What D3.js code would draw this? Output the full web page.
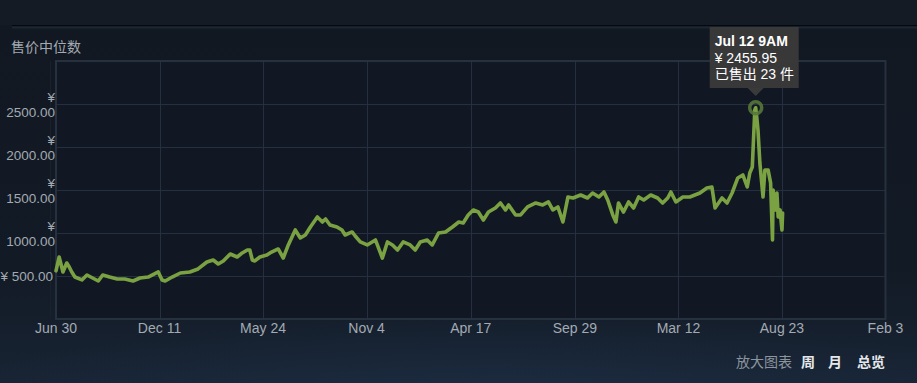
<!DOCTYPE html>
<html><head><meta charset="utf-8">
<script src="https://cdn.jsdelivr.net/npm/d3@7"></script>
<style>
html,body{margin:0;padding:0;background:#131a24;overflow:hidden}
svg{display:block}
text{font-family:Arial,"Liberation Sans","Noto Sans CJK SC",sans-serif}
</style></head><body>
<svg id="c" width="917" height="383"></svg>
<script>
const chartTitle = "售价中位数";
const dates = [
"2018-06-30","2018-07-05","2018-07-11","2018-07-17","2018-07-21","2018-07-25","2018-07-30","2018-08-10","2018-08-18","2018-08-27",
"2018-09-05","2018-09-12","2018-09-23","2018-10-05","2018-10-17","2018-10-30","2018-11-10","2018-11-23","2018-12-09","2018-12-15",
"2018-12-20","2018-12-31","2019-01-13","2019-01-28","2019-02-10","2019-02-24","2019-03-06","2019-03-14","2019-03-22","2019-04-02",
"2019-04-13","2019-04-21","2019-04-29","2019-05-03","2019-05-07","2019-05-11","2019-05-19","2019-05-30","2019-06-04","2019-06-17",
"2019-06-25","2019-07-03","2019-07-14","2019-07-22","2019-07-30","2019-08-07","2019-08-18","2019-08-26","2019-08-31","2019-09-07",
"2019-09-18","2019-09-26","2019-10-01","2019-10-12","2019-10-17","2019-10-25","2019-11-05","2019-11-18","2019-11-29","2019-12-07",
"2019-12-15","2019-12-23","2020-01-01","2020-01-12","2020-01-20","2020-01-28","2020-02-08","2020-02-16","2020-02-26","2020-03-08",
"2020-03-19","2020-03-29","2020-04-05","2020-04-13","2020-04-21","2020-04-29","2020-05-07","2020-05-15","2020-05-26","2020-06-03",
"2020-06-11","2020-06-16","2020-06-27","2020-07-05","2020-07-16","2020-07-29","2020-08-09","2020-08-18","2020-08-25","2020-09-02",
"2020-09-10","2020-09-18","2020-09-26","2020-10-08","2020-10-19","2020-10-27","2020-11-06","2020-11-14","2020-11-20","2020-11-28",
"2020-12-03","2020-12-07","2020-12-15","2020-12-23","2020-12-31","2021-01-08","2021-01-16","2021-01-27","2021-02-07","2021-02-15",
"2021-02-23","2021-02-28","2021-03-08","2021-03-19","2021-03-25","2021-03-30","2021-04-15","2021-04-26","2021-05-04","2021-05-09",
"2021-05-20","2021-05-28","2021-06-05","2021-06-14","2021-06-22","2021-06-29","2021-07-03","2021-07-07","2021-07-09","2021-07-11",
"2021-07-12T09:00","2021-07-14","2021-07-16","2021-07-19","2021-07-24","2021-07-27","2021-08-01","2021-08-05","2021-08-08","2021-08-09",
"2021-08-12","2021-08-15","2021-08-17","2021-08-20","2021-08-23","2021-08-24"
];
const prices = [
560,721,547,651,605,547,488,454,512,477,
442,512,488,465,465,442,477,488,547,454,
442,488,535,547,582,663,686,640,675,756,
721,768,802,802,686,675,721,744,768,814,
709,861,1035,942,977,1070,1186,1128,1163,1093,
1070,1035,977,1012,965,896,861,919,709,896,
861,802,896,861,802,896,919,861,1000,1012,
1070,1128,1116,1210,1268,1244,1151,1244,1291,1349,
1268,1326,1210,1210,1303,1349,1326,1361,1268,1303,
1128,1419,1407,1442,1407,1465,1419,1477,1384,1210,
1128,1349,1244,1361,1291,1419,1384,1442,1407,1349,
1407,1477,1361,1419,1419,1419,1465,1524,1535,1291,
1407,1349,1465,1640,1675,1535,1698,1768,2100,2431,
2455.95,2350,2198,1814,1419,1733,1733,1582,919,1500,
1268,1465,1186,1268,1035,1233
];
const xTickDates = ["2018-06-30","2018-12-11","2019-05-24","2019-11-04","2020-04-17","2020-09-29","2021-03-12","2021-08-23","2022-02-03"];
const xTickLabels = ["Jun 30","Dec 11","May 24","Nov 4","Apr 17","Sep 29","Mar 12","Aug 23","Feb 3"];
const yTickValues = [500,1000,1500,2000,2500];
const yDomain = [0,3000];
const tooltipLines = ["Jul 12 9AM","¥ 2455.95","已售出 23 件"];
const highlightDate = "2021-07-12T09:00";
const highlightPrice = 2455.95;
const footerLabel = "放大图表";
const footerLinks = ["周","月","总览"];

const parse = s => new Date(s.length > 10 ? s + ":00Z" : s + "T00:00:00Z");
const data = dates.map((d,i)=>({date:parse(d), v:prices[i]}));

const svg = d3.select("#c");
const W = 917, H = 383;
const L = 56, R = 885.5, T = 61, B = 319;

// background
const defs = svg.append("defs");
const bg = defs.append("linearGradient").attr("id","bg").attr("x1",0).attr("y1",0).attr("x2",0).attr("y2",1);
bg.append("stop").attr("offset","0").attr("stop-color","#121822");
bg.append("stop").attr("offset","0.7").attr("stop-color","#121a25");
bg.append("stop").attr("offset","1").attr("stop-color","#182434");
svg.append("rect").attr("width",W).attr("height",H).attr("fill","url(#bg)");
const rg = defs.append("radialGradient").attr("id","rg").attr("cx","0.55").attr("cy","1.1").attr("r","0.6");
rg.append("stop").attr("offset","0").attr("stop-color","#1e3048").attr("stop-opacity",0.6);
rg.append("stop").attr("offset","1").attr("stop-color","#1e3048").attr("stop-opacity",0);
svg.append("rect").attr("y",250).attr("width",W).attr("height",133).attr("fill","url(#rg)");

// top band
svg.append("rect").attr("x",0).attr("y",0).attr("width",W).attr("height",25.5).attr("fill","#141b25");
svg.append("line").attr("x1",12).attr("x2",W).attr("y1",25.5).attr("y2",25.5).attr("stroke","#05080c").attr("stroke-width",1.2);
svg.append("line").attr("x1",12).attr("x2",W).attr("y1",27.5).attr("y2",27.5).attr("stroke","#1c2633").attr("stroke-width",2);

// title
svg.append("text").attr("x",11).attr("y",52).attr("font-size",14).attr("fill","#a3aab2").text(chartTitle);

const x = d3.scaleUtc().domain([parse(xTickDates[0]), parse(xTickDates[xTickDates.length-1])]).range([L,R]);
const y = d3.scaleLinear().domain(yDomain).range([B,T]);

// plot background
svg.append("rect").attr("x",L).attr("y",T).attr("width",R-L).attr("height",B-T).attr("fill","#111823");

// grid
const grid = svg.append("g");
grid.selectAll("line.h").data(yTickValues).join("line")
  .attr("x1",L).attr("x2",R).attr("y1",d=>Math.round(y(d))+0.5).attr("y2",d=>Math.round(y(d))+0.5)
  .attr("stroke","#243040").attr("stroke-width",1);
grid.selectAll("line.v").data(xTickDates.slice(1,-1)).join("line")
  .attr("y1",T).attr("y2",B).attr("x1",d=>Math.round(x(parse(d)))+0.5).attr("x2",d=>Math.round(x(parse(d)))+0.5)
  .attr("stroke","#243040").attr("stroke-width",1);
svg.append("rect").attr("x",L).attr("y",T).attr("width",R-L).attr("height",B-T)
  .attr("fill","none").attr("stroke","#26313f").attr("stroke-width",2);
svg.append("line").attr("x1",50.5).attr("x2",50.5).attr("y1",T).attr("y2",B).attr("stroke","#19212c");

// y labels
const yl = svg.append("g").attr("font-size",13.5).attr("fill","#a3aab2").attr("text-anchor","end");
yTickValues.forEach(v=>{
  const lab = "¥ " + d3.format(".2f")(v);
  const cy = y(v);
  if (lab.length > 8) {
    const parts = lab.split(" ");
    yl.append("text").attr("x",55).attr("y",cy-7+5).text(parts[0]);
    yl.append("text").attr("x",55).attr("y",cy+8+5).text(parts[1]);
  } else {
    yl.append("text").attr("x",53).attr("y",cy+5).text(lab);
  }
});

// x labels
const xl = svg.append("g").attr("font-size",14).attr("fill","#a3aab2").attr("text-anchor","middle");
xTickDates.forEach((d,i)=>{
  xl.append("text").attr("x",x(parse(d))).attr("y",333).text(xTickLabels[i]);
});

// line
const line = d3.line().x(d=>x(d.date)).y(d=>y(d.v));
svg.append("path").datum(data).attr("d",line).attr("fill","none")
  .attr("stroke","#7aa242").attr("stroke-width",3.6).attr("stroke-linejoin","round").attr("stroke-linecap","round");

// highlight
const hx = x(parse(highlightDate)), hy = y(highlightPrice);
svg.append("circle").attr("cx",hx).attr("cy",hy).attr("r",6).attr("fill","none")
  .attr("stroke","#56773a").attr("stroke-width",3.5).attr("stroke-opacity",0.9);

// tooltip
const tip = svg.append("g");
const bx = hx - 46, by = 27, bw = 89, bh = 61;
tip.append("rect").attr("x",bx).attr("y",by).attr("width",bw).attr("height",bh).attr("fill","#3a3a3a").attr("fill-opacity",0.97);
tip.append("path").attr("d",`M${hx-8},${by+bh} L${hx+8},${by+bh} L${hx},${by+bh+8} Z`).attr("fill","#3a3a3a");
tooltipLines.forEach((t,i)=>{
  tip.append("text").attr("x",bx+5).attr("y",by+19+i*16.5).attr("font-size",14)
    .attr("font-weight",i===0?"bold":"normal").attr("fill","#ffffff").text(t);
});

// footer
svg.append("text").attr("x",736).attr("y",367).attr("font-size",14).attr("fill","#8c949c").text(footerLabel);
const fx = [801,828,857];
footerLinks.forEach((t,i)=>{
  svg.append("text").attr("x",fx[i]).attr("y",367).attr("font-size",14).attr("font-weight","bold").attr("fill","#e6e9ec").text(t);
});
</script>
</body></html>
